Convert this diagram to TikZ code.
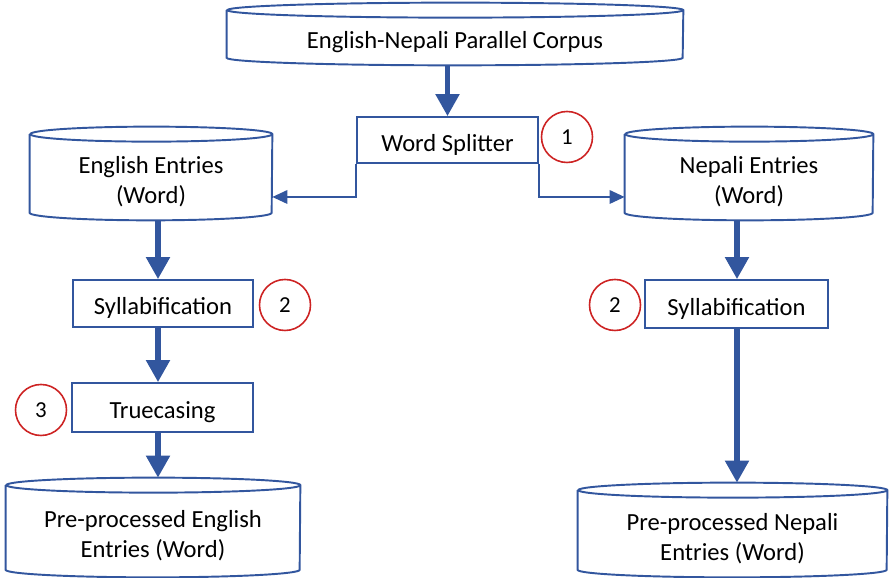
\documentclass[tikz,border=0pt]{standalone}
\usepackage{fontspec}
\setmainfont{Carlito}
\usetikzlibrary{arrows.meta,calc}

\definecolor{flowblue}{RGB}{50,86,158}
\definecolor{markred}{RGB}{205,35,35}

% cylinder data store: name, centre, width, height, text
\newcommand{\datastore}[5]{%
  \node[minimum width=#3cm, minimum height=#4cm, inner sep=0pt] (#1) at (#2) {};
  \draw[storeline]
    ($(#1.north west)+(0,-\ry)$) -- ($(#1.south west)+(0,\ry)$)
    arc[start angle=180, end angle=360, x radius=#3*0.5cm, y radius=\ry cm]
    -- ($(#1.north east)+(0,-\ry)$)
    arc[start angle=0, end angle=360, x radius=#3*0.5cm, y radius=\ry cm];
  \node[storetext] (#1-text) at ($(#1.center)+(0,-0.17)$) {#5};
}

\begin{document}
\begin{tikzpicture}[
    storetext/.style={inner sep=0pt, align=center, font=\fontsize{14}{17}\selectfont},
    storeline/.style={draw=flowblue, line width=1.1pt},
    stepbox/.style={draw=flowblue, line width=1pt, inner sep=0pt,
      text height=13pt, text depth=0pt, font=\fontsize{14}{17}\selectfont},
    stepmark/.style={circle, draw=markred, line width=0.9pt, inner sep=0pt,
      minimum size=1.02cm, font=\fontsize{13}{15}\selectfont},
    bigflow/.style={-{Triangle[width=0.46cm, length=0.44cm]}, draw=flowblue,
      line width=2.9pt},
    thinflow/.style={-{Triangle[width=0.27cm, length=0.3cm]}, draw=flowblue,
      line width=1pt}]
  \useasboundingbox (0,0) rectangle (17.86,11.56);
  \def\ry{0.15}

  % 1. Corpus and word splitter
  \datastore{corpus}{9.10,10.88}{9.12}{1.24}{English-Nepali Parallel Corpus}
  \node[stepbox, minimum width=3.62cm, minimum height=0.92cm] (split) at (8.95,8.76) {Word Splitter};
  \node[stepmark] (mark1) at (11.34,8.82) {1};
  \draw[bigflow] (split.north |- corpus.south) -- (split.north);

  % 2. Word lists
  \datastore{engE}{3.02,8.09}{4.84}{1.86}{English Entries\\(Word)}
  \datastore{nepE}{14.98,8.09}{4.96}{1.86}{Nepali Entries\\(Word)}
  \coordinate (engIn) at ($(engE.east)+(0,-0.47)$);
  \coordinate (nepIn) at ($(nepE.west)+(0,-0.47)$);
  \draw[thinflow] (split.south west) |- (engIn);
  \draw[thinflow] (split.south east) |- (nepIn);

  % 3. English column
  \coordinate (colL) at (3.16,0);
  \node[stepbox, minimum width=3.6cm, minimum height=0.94cm] (syllE) at (3.26,5.49) {Syllabification};
  \node[stepmark] (mark2E) at (5.70,5.46) {2};
  \node[stepbox, minimum width=3.62cm, minimum height=0.98cm] (truec) at (3.25,3.41) {Truecasing};
  \node[stepmark] (mark3) at (0.82,3.36) {3};
  \datastore{preE}{3.06,1.01}{5.88}{1.98}{Pre-processed English\\Entries (Word)}
  \draw[bigflow] (colL |- engE.south) -- (colL |- syllE.north);
  \draw[bigflow] (colL |- syllE.south) -- (colL |- truec.north);
  \draw[bigflow] (colL |- truec.south) -- (colL |- preE.north);

  % 4. Nepali column
  \coordinate (colR) at (14.74,0);
  \node[stepbox, minimum width=3.66cm, minimum height=0.96cm] (syllN) at (14.73,5.48) {Syllabification};
  \node[stepmark] (mark2N) at (12.30,5.46) {2};
  \datastore{preN}{14.65,0.96}{6.18}{1.88}{Pre-processed Nepali\\Entries (Word)}
  \draw[bigflow] (colR |- nepE.south) -- (colR |- syllN.north);
  \draw[bigflow] (colR |- syllN.south) -- (colR |- preN.north);
\end{tikzpicture}
\end{document}
